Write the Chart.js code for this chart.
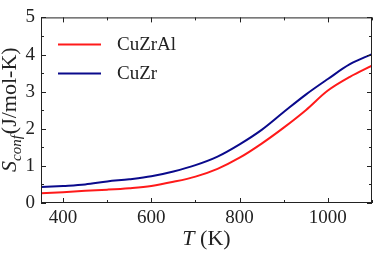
<!DOCTYPE html>
<html>
<head>
<meta charset="utf-8">
<script src="https://cdn.jsdelivr.net/npm/chart.js@4.4.1/dist/chart.umd.min.js"></script>
<style>
  html, body { margin: 0; padding: 0; background: #fff; }
  #wrap { width: 374px; height: 254px; position: relative; }
</style>
</head>
<body>
<div id="wrap"><canvas id="chart"></canvas></div>
<script>
// ---- data ----
const temps = [350, 400, 450, 500, 550, 600, 650, 700, 750, 800, 850, 900, 950, 1000, 1050, 1100];
const cuZrAl = [0.26, 0.29, 0.33, 0.36, 0.40, 0.46, 0.57, 0.71, 0.92, 1.22, 1.60, 2.03, 2.50, 3.03, 3.40, 3.70];
const cuZr   = [0.43, 0.46, 0.50, 0.58, 0.64, 0.72, 0.85, 1.02, 1.25, 1.58, 1.97, 2.45, 2.92, 3.34, 3.74, 4.01];
const xTickLabels = [400, 600, 800, 1000];
const yTickLabels = [0, 1, 2, 3, 4, 5];

const SERIF = '"Liberation Serif", "DejaVu Serif", serif';

// inward ticks on all four sides, plus the top/right frame
const frameTicks = {
    id: 'frameTicks',
    afterDraw(chart) {
        const { ctx, chartArea: a, scales: { x, y } } = chart;
        ctx.save();
        ctx.strokeStyle = '#222';
        ctx.lineWidth = 1;
        ctx.strokeRect(a.left + 0.5, a.top + 0.5, a.right - a.left - 1, a.bottom - a.top - 1);
        ctx.beginPath();
        for (let v = 400; v <= 1100; v += 100) {
            const px = Math.round(x.getPixelForValue(v)) + 0.5;
            const len = xTickLabels.includes(v) ? 5 : 3;
            ctx.moveTo(px, a.bottom); ctx.lineTo(px, a.bottom - len);
            ctx.moveTo(px, a.top); ctx.lineTo(px, a.top + len);
        }
        for (let v = 0; v <= 5; v += 0.5) {
            const py = Math.round(y.getPixelForValue(v)) + 0.5;
            const len = Number.isInteger(v) ? 5 : 3;
            ctx.moveTo(a.left, py); ctx.lineTo(a.left + len, py);
            ctx.moveTo(a.right, py); ctx.lineTo(a.right - len, py);
        }
        ctx.stroke();
        ctx.restore();
    }
};

// legend inside the plot, upper left
const innerLegend = {
    id: 'innerLegend',
    afterDraw(chart) {
        const { ctx, chartArea: a } = chart;
        ctx.save();
        ctx.font = '19px ' + SERIF;
        ctx.textBaseline = 'middle';
        chart.data.datasets.forEach((ds, i) => {
            const yy = a.top + 27 + i * 29;
            ctx.strokeStyle = ds.borderColor;
            ctx.lineWidth = 2;
            ctx.beginPath();
            ctx.moveTo(a.left + 17, yy);
            ctx.lineTo(a.left + 60, yy);
            ctx.stroke();
            ctx.fillStyle = '#222';
            ctx.fillText(ds.label, a.left + 76, yy + 1);
        });
        ctx.restore();
    }
};

// axis titles with italic symbols and subscript
const axisTitles = {
    id: 'axisTitles',
    afterDraw(chart) {
        const { ctx, chartArea: a } = chart;
        ctx.save();
        ctx.fillStyle = '#222';
        ctx.textBaseline = 'alphabetic';

        // x title: T (K)
        const big = 22;
        ctx.font = 'italic ' + big + 'px ' + SERIF;
        const wT = ctx.measureText('T').width;
        ctx.font = big + 'px ' + SERIF;
        const wK = ctx.measureText(' (K)').width;
        let cx = (a.left + a.right) / 2 - (wT + wK) / 2;
        ctx.font = 'italic ' + big + 'px ' + SERIF;
        ctx.fillText('T', cx, 245);
        ctx.font = big + 'px ' + SERIF;
        ctx.fillText(' (K)', cx + wT, 245);

        // y title: S_conf(J/mol-K)
        ctx.translate(16, (a.top + a.bottom) / 2);
        ctx.rotate(-Math.PI / 2);
        ctx.font = 'italic ' + big + 'px ' + SERIF;
        const wS = ctx.measureText('S').width;
        ctx.font = 'italic 15px ' + SERIF;
        const wSub = ctx.measureText('conf').width;
        ctx.font = big + 'px ' + SERIF;
        const wU = ctx.measureText('(J/mol-K)').width;
        let sx = -(wS + wSub + wU) / 2;
        ctx.font = 'italic ' + big + 'px ' + SERIF;
        ctx.fillText('S', sx, 0);
        ctx.font = 'italic 15px ' + SERIF;
        ctx.fillText('conf', sx + wS, 5);
        ctx.font = big + 'px ' + SERIF;
        ctx.fillText('(J/mol-K)', sx + wS + wSub + 1, 0);
        ctx.restore();
    }
};

new Chart(document.getElementById('chart'), {
    type: 'line',
    data: {
        labels: temps,
        datasets: [
            {
                label: 'CuZrAl',
                data: temps.map((t, i) => ({ x: t, y: cuZrAl[i] })),
                borderColor: '#ff1a1a',
                borderWidth: 2,
                pointRadius: 0,
                tension: 0.35,
                fill: false
            },
            {
                label: 'CuZr',
                data: temps.map((t, i) => ({ x: t, y: cuZr[i] })),
                borderColor: '#0a0a8c',
                borderWidth: 2,
                pointRadius: 0,
                tension: 0.35,
                fill: false
            }
        ]
    },
    options: {
        responsive: true,
        maintainAspectRatio: false,
        animation: false,
        layout: { padding: { left: 0, right: 2, top: 5, bottom: 0 } },
        plugins: {
            legend: { display: false },
            tooltip: { enabled: false }
        },
        scales: {
            x: {
                type: 'linear',
                min: 350,
                max: 1100,
                afterBuildTicks: s => { s.ticks = xTickLabels.map(v => ({ value: v })); },
                afterFit: s => { s.height = 51; },
                grid: { display: false, drawTicks: false, tickLength: 0 },
                border: { display: false },
                ticks: {
                    color: '#222',
                    font: { family: SERIF, size: 19 },
                    padding: 4,
                    maxRotation: 0,
                    callback: v => String(v)
                }
            },
            y: {
                min: 0,
                max: 5,
                afterBuildTicks: s => { s.ticks = yTickLabels.map(v => ({ value: v })); },
                afterFit: s => { s.width = 41; },
                grid: { display: false, drawTicks: false, tickLength: 0 },
                border: { display: false },
                ticks: {
                    color: '#222',
                    font: { family: SERIF, size: 19 },
                    padding: 6,
                    callback: v => String(v)
                }
            }
        }
    },
    plugins: [frameTicks, innerLegend, axisTitles]
});
</script>
</body>
</html>
